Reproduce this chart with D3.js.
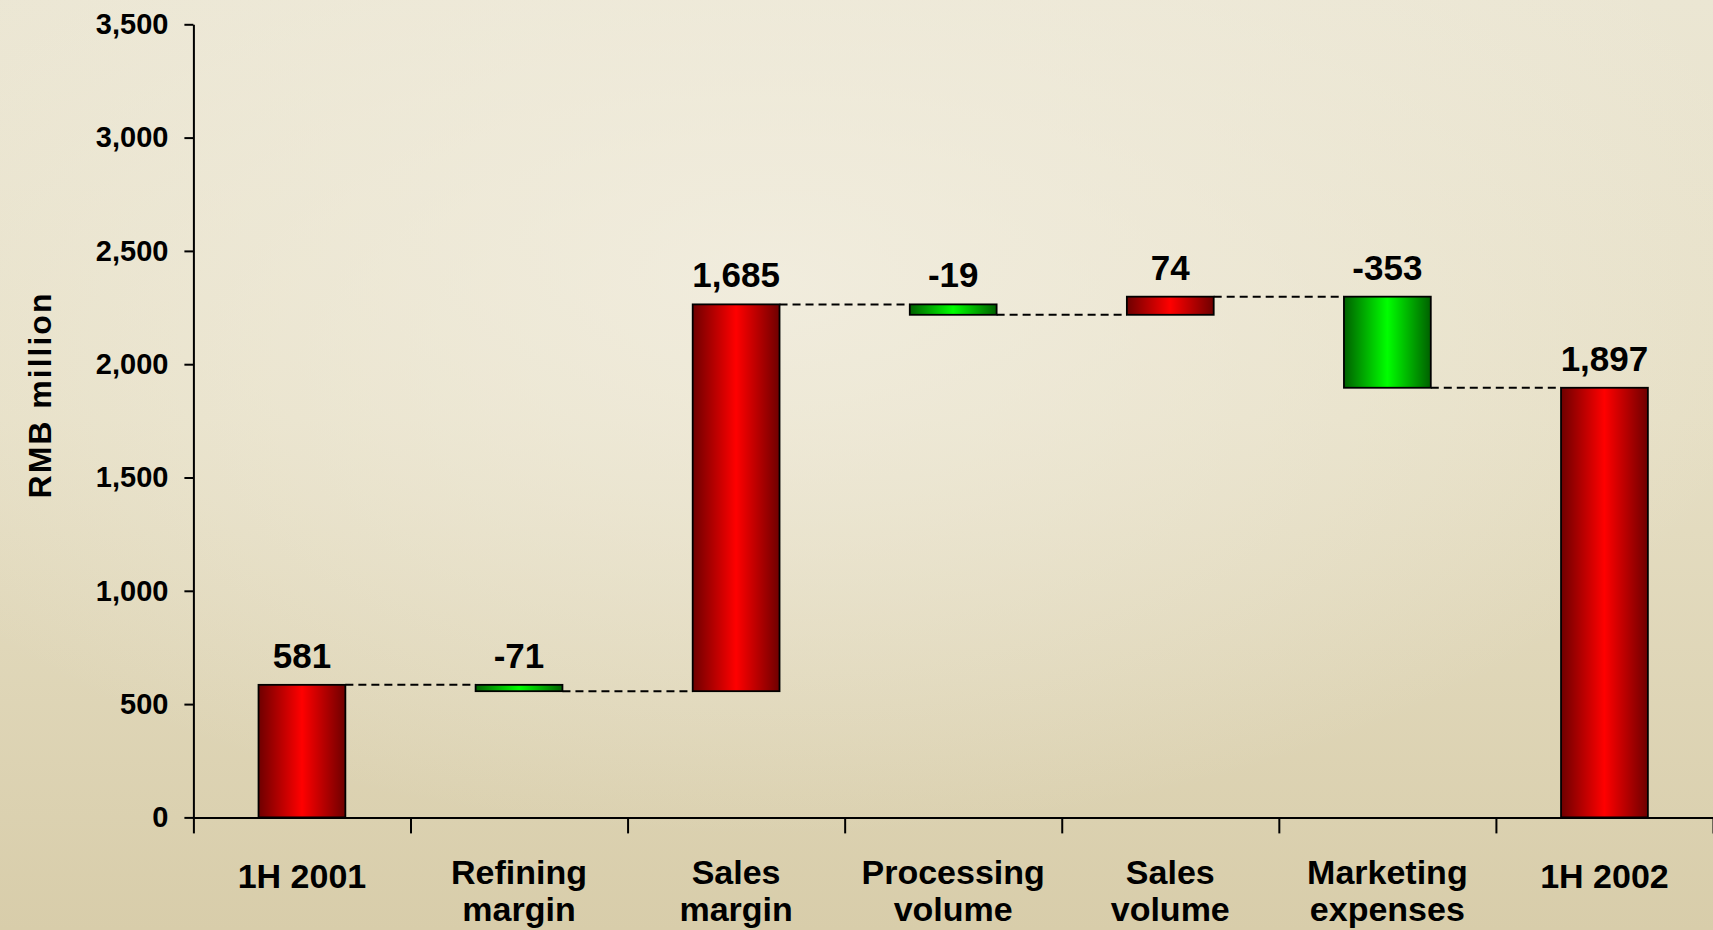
<!DOCTYPE html>
<html>
<head>
<meta charset="utf-8">
<script src="https://cdn.jsdelivr.net/npm/d3@7/dist/d3.min.js"></script>
<style>
	html, body { margin: 0; padding: 0; overflow: hidden; }
	svg { display: block; font-family: 'Liberation Sans', Arial, sans-serif; font-weight: bold; }
</style>
</head>
<body>
<svg id="chart" width="1713" height="930"></svg>
<script>
/* global d3 */

// Daten
var categories = ['1H 2001', 'Refining\nmargin', 'Sales\nmargin', 'Processing\nvolume', 'Sales\nvolume', 'Marketing\nexpenses', '1H 2002'];
var barStart = [0, 585, 557, 2264, 2218, 2298, 0];
var barEnd = [585, 557, 2264, 2218, 2298, 1896, 1896];
var valueLabels = ['581', '-71', '1,685', '-19', '74', '-353', '1,897'];
var yTicks = [0, 500, 1000, 1500, 2000, 2500, 3000, 3500];

var svg = d3.select('#chart');
var width = 1713;
var height = 930;
var plot = {left: 193.4, right: 1713, top: 24.3, bottom: 817.4};

// Hintergrund
var defs = svg.append('defs');
var bg = defs.append('linearGradient').attr('id', 'bg').attr('x1', 0).attr('y1', 0).attr('x2', 0).attr('y2', 1);
bg.append('stop').attr('offset', '0%').attr('stop-color', '#ebe6d3');
bg.append('stop').attr('offset', '45%').attr('stop-color', '#e6dfc5');
bg.append('stop').attr('offset', '100%').attr('stop-color', '#d8cdaa');
var glow = defs.append('radialGradient').attr('id', 'glow').attr('cx', 0.45).attr('cy', 0.3).attr('r', 0.6);
glow.append('stop').attr('offset', '0%').attr('stop-color', '#f3efe2').attr('stop-opacity', 0.8);
glow.append('stop').attr('offset', '100%').attr('stop-color', '#f3efe2').attr('stop-opacity', 0);

// Balkenverlauf rot / grün
function barGradient (id, dark, light) {
	var g = defs.append('linearGradient').attr('id', id).attr('x1', 0).attr('y1', 0).attr('x2', 1).attr('y2', 0);
	g.append('stop').attr('offset', '0%').attr('stop-color', dark);
	g.append('stop').attr('offset', '50%').attr('stop-color', light);
	g.append('stop').attr('offset', '100%').attr('stop-color', dark);
}
barGradient('gRed', '#6e0000', '#ff0000');
barGradient('gGreen', '#006000', '#00ff00');

svg.append('rect').attr('width', width).attr('height', height).attr('fill', 'url(#bg)');
svg.append('rect').attr('width', width).attr('height', height).attr('fill', 'url(#glow)');

// Skalen
var y = d3.scaleLinear().domain([0, 3500]).range([plot.bottom, plot.top]);
var x = d3.scaleBand().domain(categories).range([plot.left, plot.right]).paddingInner(0.6).paddingOuter(0.3);
var xEdge = d3.scaleLinear().domain([0, categories.length]).range([plot.left, plot.right]);

// Verbindungslinien
var gLinks = svg.append('g');
categories.slice(0, -1).forEach(function (c, i) {
	gLinks.append('line')
		.attr('x1', x(c) + x.bandwidth()).attr('x2', x(categories[i + 1]))
		.attr('y1', y(barEnd[i])).attr('y2', y(barEnd[i]))
		.attr('stroke', '#000').attr('stroke-width', 2).attr('stroke-dasharray', '8,5');
});

// Balken
svg.append('g').selectAll('rect')
	.data(categories)
	.join('rect')
	.attr('x', function (d) { return x(d); })
	.attr('width', x.bandwidth())
	.attr('y', function (d, i) { return y(Math.max(barStart[i], barEnd[i])); })
	.attr('height', function (d, i) { return Math.abs(y(barStart[i]) - y(barEnd[i])); })
	.attr('fill', function (d, i) { return barEnd[i] >= barStart[i] ? 'url(#gRed)' : 'url(#gGreen)'; })
	.attr('stroke', '#000').attr('stroke-width', 1.8);

// Wertbeschriftungen
svg.append('g').selectAll('text')
	.data(categories)
	.join('text')
	.attr('x', function (d) { return x(d) + x.bandwidth() / 2; })
	.attr('y', function (d, i) { return y(Math.max(barStart[i], barEnd[i])) - 17; })
	.attr('text-anchor', 'middle')
	.attr('font-size', 35)
	.attr('fill', '#000')
	.text(function (d, i) { return valueLabels[i]; });

// Y-Achse
var yAxis = svg.append('g')
	.attr('transform', 'translate(' + plot.left + ',0)')
	.call(d3.axisLeft(y).tickValues(yTicks).tickFormat(d3.format(',')).tickSize(9).tickSizeOuter(0).tickPadding(16));
yAxis.select('.domain').attr('stroke-width', 2);
yAxis.selectAll('.tick line').attr('stroke-width', 2);
yAxis.selectAll('.tick text').attr('font-size', 29).attr('font-family', null).attr('fill', '#000');

// X-Achse
var xAxis = svg.append('g')
	.attr('transform', 'translate(0,' + plot.bottom + ')')
	.call(d3.axisBottom(xEdge).tickValues(d3.range(categories.length + 1)).tickFormat('').tickSize(16).tickSizeOuter(0));
xAxis.select('.domain').attr('stroke-width', 2);
xAxis.selectAll('.tick line').attr('stroke-width', 2);

// Kategorienamen
var catText = svg.append('g').selectAll('text')
	.data(categories)
	.join('text')
	.attr('x', function (d) { return x(d) + x.bandwidth() / 2; })
	.attr('y', function (d) { return d.indexOf('\n') < 0 ? 888 : 884; })
	.attr('text-anchor', 'middle')
	.attr('font-size', 34)
	.attr('fill', '#000');
catText.selectAll('tspan')
	.data(function (d) { return d.split('\n'); })
	.join('tspan')
	.attr('x', function () { return d3.select(this.parentNode).attr('x'); })
	.attr('dy', function (d, i) { return i === 0 ? 0 : 37; })
	.text(function (d) { return d; });

// Achsentitel
svg.append('text')
	.attr('transform', 'translate(51,395) rotate(-90)')
	.attr('text-anchor', 'middle')
	.attr('font-size', 32)
	.attr('letter-spacing', 2)
	.attr('fill', '#000')
	.text('RMB million');
</script>
</body>
</html>
